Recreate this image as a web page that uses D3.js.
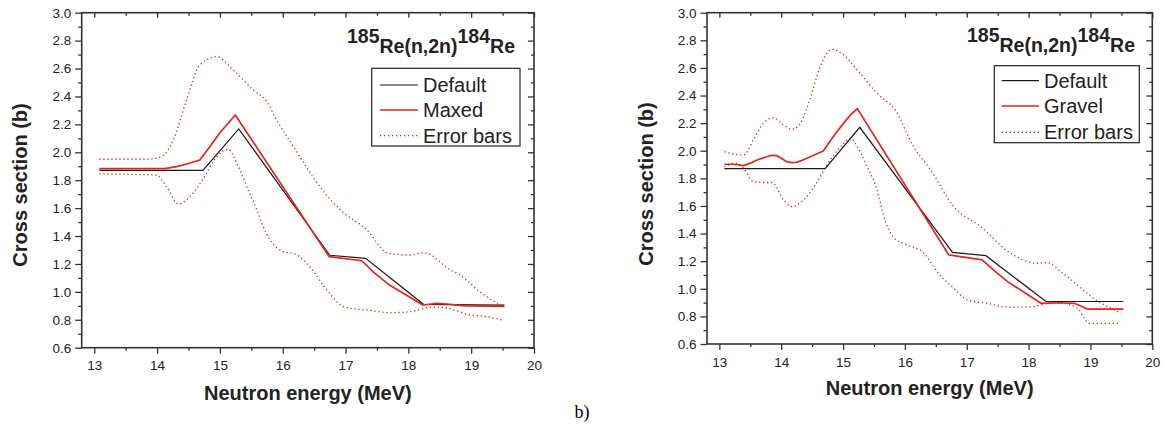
<!DOCTYPE html>
<html>
<head>
<meta charset="utf-8">
<script src="https://cdn.jsdelivr.net/npm/d3@7"></script>
<style>
  body { margin: 0; background: #fff; }
  svg { display: block; font-family: "Liberation Sans", Arial, Helvetica, sans-serif; }
</style>
</head>
<body>
<svg id="chart" width="1164" height="436"></svg>
<script>
// tick values shared by both panels
const xMajor = [13, 14, 15, 16, 17, 18, 19, 20];
const xMinor = [13.5, 14.5, 15.5, 16.5, 17.5, 18.5, 19.5];
const yMajor = [0.6, 0.8, 1.0, 1.2, 1.4, 1.6, 1.8, 2.0, 2.2, 2.4, 2.6, 2.8, 3.0];
const yMinor = [0.7, 0.9, 1.1, 1.3, 1.5, 1.7, 1.9, 2.1, 2.3, 2.5, 2.7, 2.9];

// panel a: [energy MeV, cross section b]
const leftDefault = [[13.08, 1.871], [14.73, 1.871], [15.30, 2.167], [16.75, 1.262], [17.32, 1.240], [18.24, 0.911], [19.53, 0.905]];
const leftMaxed = [[13.08, 1.883], [14.12, 1.883], [14.31, 1.897], [14.5, 1.92], [14.68, 1.945], [14.84, 2.04], [15.0, 2.14],
  [15.245, 2.267], [16.74, 1.252], [17.26, 1.223], [17.45, 1.14], [17.68, 1.055], [18.23, 0.906], [18.45, 0.917], [18.61, 0.913],
  [18.90, 0.899], [19.53, 0.895]];
const leftUpper = [[13.08, 1.95], [13.83, 1.95], [14.0, 1.96], [14.13, 1.99], [14.26, 2.09], [14.47, 2.375], [14.68, 2.625],
  [14.95, 2.685], [15.21, 2.59], [15.53, 2.446], [15.75, 2.36], [15.88, 2.25], [16.2, 2.02], [16.59, 1.754], [16.91, 1.59],
  [17.34, 1.443], [17.68, 1.276], [18.03, 1.264], [18.24, 1.281], [18.67, 1.157], [18.82, 1.12], [19.14, 1.0], [19.51, 0.89]];
const leftLower = [[13.08, 1.845], [13.99, 1.837], [14.15, 1.754], [14.34, 1.63], [14.52, 1.682], [14.74, 1.814], [14.95, 1.969],
  [15.13, 2.022], [15.27, 1.921], [15.45, 1.73], [15.61, 1.563], [15.69, 1.467], [15.80, 1.372], [16.01, 1.288], [16.2, 1.27],
  [16.43, 1.18], [16.70, 1.014], [16.99, 0.890], [17.34, 0.870], [17.71, 0.851], [18.03, 0.858], [18.35, 0.890], [18.51, 0.890],
  [18.77, 0.865], [18.93, 0.84], [19.25, 0.822], [19.49, 0.799]];

// panel b
const rightDefault = [[13.08, 1.870], [14.71, 1.870], [15.27, 2.170], [16.77, 1.264], [17.31, 1.240], [18.28, 0.908], [19.53, 0.908]];
const rightGravel = [[13.08, 1.902], [13.23, 1.902], [13.39, 1.892], [13.5, 1.91], [13.61, 1.933], [13.75, 1.955], [13.85, 1.967],
  [13.93, 1.964], [14.0, 1.945], [14.09, 1.921], [14.17, 1.914], [14.25, 1.916], [14.36, 1.935], [14.47, 1.957], [14.68, 1.998],
  [14.79, 2.07], [14.90, 2.138], [15.01, 2.2], [15.12, 2.259], [15.23, 2.305], [16.71, 1.245], [17.25, 1.209], [17.45, 1.13],
  [17.66, 1.052], [18.20, 0.895], [18.52, 0.899], [18.74, 0.895], [18.87, 0.870], [18.95, 0.852], [19.53, 0.852]];
const rightUpper = [[13.08, 1.993], [13.23, 1.976], [13.39, 1.969], [13.55, 2.078], [13.71, 2.199], [13.875, 2.239], [14.04, 2.187],
  [14.17, 2.155], [14.31, 2.199], [14.47, 2.38], [14.63, 2.609], [14.82, 2.735], [15.01, 2.694], [15.23, 2.585], [15.55, 2.416],
  [15.85, 2.29], [16.14, 2.029], [16.415, 1.861], [16.79, 1.595], [17.225, 1.45], [17.71, 1.257], [18.14, 1.185], [18.30, 1.19],
  [18.52, 1.124], [18.85, 1.004], [19.09, 0.919], [19.33, 0.859], [19.49, 0.823]];
const rightLower = [[13.08, 1.884], [13.28, 1.909], [13.39, 1.873], [13.55, 1.776], [13.71, 1.77], [13.85, 1.77], [14.04, 1.643],
  [14.17, 1.595], [14.36, 1.643], [14.55, 1.752], [14.74, 1.897], [14.96, 2.029], [15.12, 2.09], [15.23, 2.029], [15.39, 1.884],
  [15.55, 1.716], [15.66, 1.522], [15.82, 1.37], [16.04, 1.317], [16.31, 1.257], [16.52, 1.124], [16.79, 1.004], [17.01, 0.919],
  [17.33, 0.895], [17.71, 0.866], [18.04, 0.870], [18.36, 0.895], [18.52, 0.895], [18.74, 0.87], [18.82, 0.846], [18.9, 0.786],
  [18.98, 0.75], [19.49, 0.75]];

const leftLabels = ["Default", "Maxed", "Error bars"];
const rightLabels = ["Default", "Gravel", "Error bars"];

const RED = "#e3241b";
const INK = "#222";

const svg = d3.select("#chart");

const panels = [
  {
    box: { l: 81.7, r: 534, t: 12.7, b: 347.7 },
    yTitle: { x: 26.5, y: 185 }, xTitleY: 400,
    note: { x: 515, y: 52.7 },
    legend: { x0: 371.7, x1: 520, y0: 68.3, y1: 146, s0: 380, s1: 418, tx: 423, rows: [85, 110, 135.7] },
    labels: leftLabels,
    def: leftDefault, alt: leftMaxed, up: leftUpper, lo: leftLower
  },
  {
    box: { l: 707, r: 1152.3, t: 12.7, b: 344 },
    yTitle: { x: 652.5, y: 184 }, xTitleY: 395,
    note: { x: 1135, y: 51.7 },
    legend: { x0: 994.3, x1: 1139.3, y0: 65.7, y1: 142.7, s0: 1001.7, s1: 1039, tx: 1044, rows: [80.7, 106, 132.3] },
    labels: rightLabels,
    def: rightDefault, alt: rightGravel, up: rightUpper, lo: rightLower
  }
];

panels.forEach((p) => {
  const b = p.box;
  const x = d3.scaleLinear().domain([12.8, 20]).range([b.l, b.r]);
  const y = d3.scaleLinear().domain([0.6, 3.0]).range([b.b, b.t]);
  const g = svg.append("g");

  // axes: outward ticks bottom / left, inward ticks top / right
  const styleAxis = (sel) => {
    sel.select(".domain").remove();
    sel.selectAll("line").attr("stroke", "#333").attr("stroke-width", 1.3);
    sel.selectAll("text").attr("fill", INK).style("font-size", "13.5px")
      .style("font-family", "'Liberation Sans', Arial, sans-serif");
  };
  g.append("g").attr("transform", `translate(0,${b.b})`)
    .call(d3.axisBottom(x).tickValues(xMajor).tickSize(6).tickPadding(7).tickFormat(d3.format("d"))).call(styleAxis);
  g.append("g").attr("transform", `translate(0,${b.b})`)
    .call(d3.axisBottom(x).tickValues(xMinor).tickSize(3).tickFormat("")).call(styleAxis);
  g.append("g").attr("transform", `translate(${b.l},0)`)
    .call(d3.axisLeft(y).tickValues(yMajor).tickSize(6.5).tickPadding(4).tickFormat(d3.format(".1f"))).call(styleAxis);
  g.append("g").attr("transform", `translate(${b.l},0)`)
    .call(d3.axisLeft(y).tickValues(yMinor).tickSize(3.5).tickFormat("")).call(styleAxis);
  g.append("g").attr("transform", `translate(0,${b.t})`)
    .call(d3.axisTop(x).tickValues(xMajor).tickSize(-5).tickFormat("")).call(styleAxis);
  g.append("g").attr("transform", `translate(0,${b.t})`)
    .call(d3.axisTop(x).tickValues(xMinor).tickSize(-3).tickFormat("")).call(styleAxis);
  g.append("g").attr("transform", `translate(${b.r},0)`)
    .call(d3.axisRight(y).tickValues(yMajor).tickSize(-6).tickFormat("")).call(styleAxis);
  g.append("g").attr("transform", `translate(${b.r},0)`)
    .call(d3.axisRight(y).tickValues(yMinor).tickSize(-3).tickFormat("")).call(styleAxis);

  // frame
  g.append("rect")
    .attr("x", b.l).attr("y", b.t)
    .attr("width", b.r - b.l).attr("height", b.b - b.t)
    .attr("fill", "none").attr("stroke", "#333").attr("stroke-width", 1.6);

  const smooth = d3.line().x((d) => x(d[0])).y((d) => y(d[1])).curve(d3.curveMonotoneX);
  const straight = d3.line().x((d) => x(d[0])).y((d) => y(d[1]));

  // error bars (dotted)
  [p.up, p.lo].forEach((s) => {
    g.append("path").attr("d", smooth(s))
      .attr("fill", "none").attr("stroke", RED).attr("stroke-width", 1.3)
      .attr("stroke-dasharray", "1.3,2.7");
  });
  // default (black)
  g.append("path").attr("d", straight(p.def))
    .attr("fill", "none").attr("stroke", "#1a1a1a").attr("stroke-width", 1.2);
  // adjusted (red)
  g.append("path").attr("d", straight(p.alt))
    .attr("fill", "none").attr("stroke", RED).attr("stroke-width", 1.7)
    .attr("stroke-linejoin", "round");

  // reaction label
  const note = g.append("text")
    .attr("x", p.note.x).attr("y", p.note.y)
    .attr("text-anchor", "end")
    .attr("fill", INK)
    .style("font-size", "19.5px").style("font-weight", "bold");
  note.append("tspan").attr("dy", -10).text("185");
  note.append("tspan").attr("dy", 10).text("Re(n,2n)");
  note.append("tspan").attr("dy", -10).text("184");
  note.append("tspan").attr("dy", 10).text("Re");

  // legend
  const L = p.legend;
  g.append("rect")
    .attr("x", L.x0).attr("y", L.y0)
    .attr("width", L.x1 - L.x0).attr("height", L.y1 - L.y0)
    .attr("fill", "#fff").attr("stroke", "#222").attr("stroke-width", 1.2);
  const sample = [
    { stroke: "#1a1a1a", w: 1.2, dash: null },
    { stroke: RED, w: 1.7, dash: null },
    { stroke: RED, w: 1.3, dash: "1.3,2.7" }
  ];
  p.labels.forEach((lab, i) => {
    g.append("line")
      .attr("x1", L.s0).attr("x2", L.s1)
      .attr("y1", L.rows[i]).attr("y2", L.rows[i])
      .attr("stroke", sample[i].stroke).attr("stroke-width", sample[i].w)
      .attr("stroke-dasharray", sample[i].dash);
    g.append("text")
      .attr("x", L.tx).attr("y", L.rows[i] + 7)
      .attr("fill", INK).style("font-size", "20px")
      .text(lab);
  });

  // axis titles
  g.append("text")
    .attr("x", (b.l + b.r) / 2).attr("y", p.xTitleY)
    .attr("text-anchor", "middle").attr("fill", INK)
    .style("font-size", "20px").style("font-weight", "bold")
    .text("Neutron energy (MeV)");
  g.append("text")
    .attr("transform", `translate(${p.yTitle.x},${p.yTitle.y}) rotate(-90)`)
    .attr("text-anchor", "middle").attr("fill", INK)
    .style("font-size", "20px").style("font-weight", "bold")
    .text("Cross section (b)");
});

// sub-figure label
svg.append("text")
  .attr("x", 582).attr("y", 418)
  .attr("text-anchor", "middle")
  .style("font-family", "'Liberation Serif', 'Times New Roman', serif")
  .style("font-size", "18px")
  .text("b)");
</script>
</body>
</html>
